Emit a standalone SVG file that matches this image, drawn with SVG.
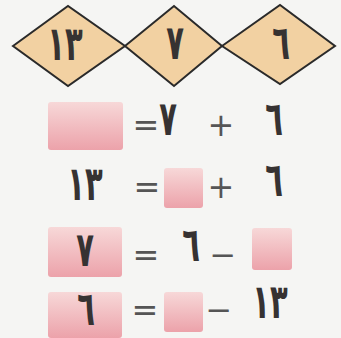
<svg xmlns="http://www.w3.org/2000/svg" width="341" height="338" viewBox="0 0 341 338">
<defs>
<linearGradient id="pink" x1="0" y1="0" x2="0" y2="1">
<stop offset="0" stop-color="#f7d8d8"/>
<stop offset="1" stop-color="#eca2aa"/>
</linearGradient>
<style>
.dia{fill:#f2d1a2;stroke:#2a2a2a;stroke-width:2;stroke-linejoin:miter}
.num{font-family:"DejaVu Sans",sans-serif;font-weight:bold;font-size:29px;fill:#363232;text-anchor:middle}
.op{font-family:"DejaVu Sans",sans-serif;font-size:32px;fill:#555;text-anchor:middle}
.box{fill:url(#pink)}
</style>
</defs>
<rect width="341" height="338" fill="#f5f5f3"/>
<g id="d13"><polygon class="dia" points="13,46 68,6 125,46 68,86"/><text class="num" transform="translate(65,60) scale(1,1.65)">١٣</text></g>
<g id="d7"><polygon class="dia" points="125,46 174,6 222,46 174,86"/><text class="num" transform="translate(175,59) scale(1,1.65)">٧</text></g>
<g id="d6"><polygon class="dia" points="222,46 280,5 335,46 280,84"/><text class="num" transform="translate(281,59) scale(1,1.65)">٦</text></g>
<g id="row1">
<rect class="box" x="48" y="102" width="75" height="48" rx="3"/>
<text class="op" x="146" y="136">=</text>
<text class="num" transform="translate(168,135) scale(1,1.65)">٧</text>
<text class="op" x="221" y="136">+</text>
<text class="num" transform="translate(274,135) scale(1,1.65)">٦</text>
</g>
<g id="row2">
<text class="num" transform="translate(85,200) scale(1,1.65)">١٣</text>
<text class="op" x="147" y="198">=</text>
<rect class="box" x="164" y="168" width="39" height="40" rx="3"/>
<text class="op" x="221" y="198">+</text>
<text class="num" transform="translate(274,196) scale(1,1.65)">٦</text>
</g>
<g id="row3">
<rect class="box" x="48" y="227" width="74" height="50" rx="3"/>
<text class="num" transform="translate(85,266) scale(1,1.65)">٧</text>
<text class="op" x="146" y="266">=</text>
<text class="num" transform="translate(191,261) scale(1,1.65)">٦</text>
<text class="op" x="223" y="266">−</text>
<rect class="box" x="252" y="228" width="40" height="42" rx="3"/>
</g>
<g id="row4">
<rect class="box" x="48" y="292" width="74" height="46" rx="3"/>
<text class="num" transform="translate(86,325) scale(1,1.65)">٦</text>
<text class="op" x="145" y="321">=</text>
<rect class="box" x="164" y="292" width="39" height="40" rx="3"/>
<text class="op" x="219" y="321">−</text>
<text class="num" transform="translate(270,318) scale(1,1.65)">١٣</text>
</g>
</svg>
